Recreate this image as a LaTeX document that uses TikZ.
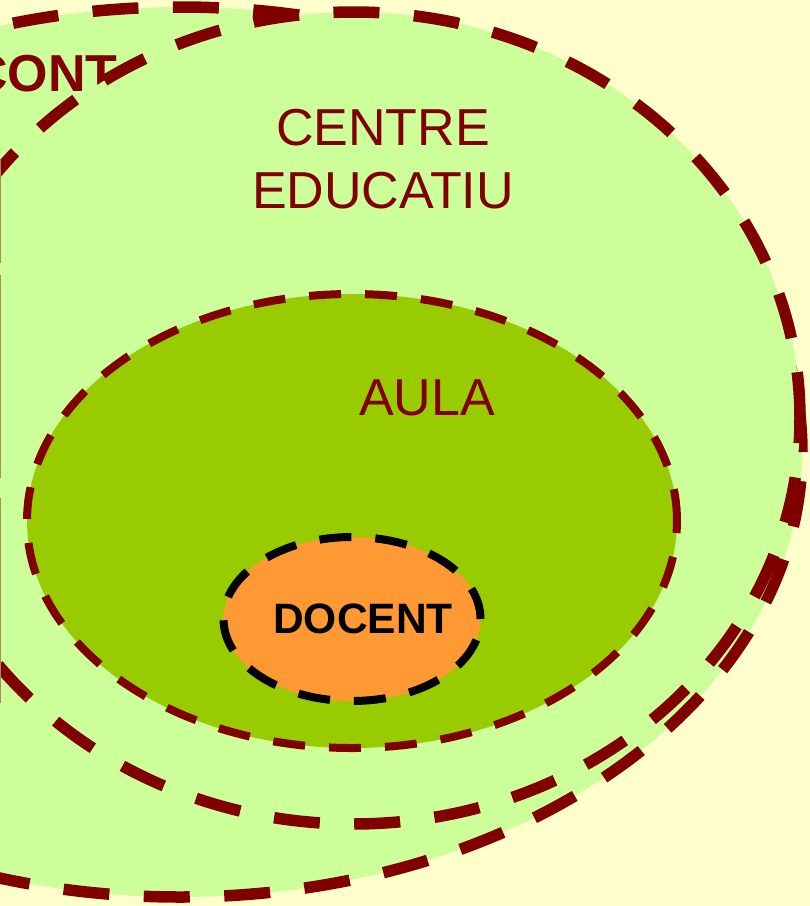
\documentclass[tikz,border=0pt]{standalone}
\usepackage{fontspec}
\setmainfont{Liberation Sans}
\usetikzlibrary{shapes.geometric}
\definecolor{bgyellow}{HTML}{FFFFCC}
\definecolor{lgreen}{HTML}{CCFF99}
\definecolor{agreen}{HTML}{99CC00}
\definecolor{dorange}{HTML}{FF9933}
\definecolor{dred}{HTML}{800000}
\definecolor{tanline}{HTML}{A88A5C}
\begin{document}
\begin{tikzpicture}[x=1pt,y=-1pt,
  ring/.style={ellipse, inner sep=0pt, outer sep=0pt},
  bigdash/.style={draw=dred, line width=11.5pt, dash pattern=on 46pt off 34.5pt},
  smalldash/.style={line width=8pt, dash pattern=on 32pt off 24pt},
  lbl/.style={inner sep=0pt, text=dred}]
\useasboundingbox (0,0) rectangle (810,906);
\fill[bgyellow] (0,0) rectangle (810,906);
\clip (0,0) rectangle (810,906);
\node[ring, bigdash, fill=lgreen, minimum width=1244pt, minimum height=890pt] (ctx) at (180,452) {};
\node[lbl, anchor=base west, font=\bfseries\fontsize{52}{62}\selectfont] (cont) at (-30,91) {CONT};
\node[ring, bigdash, fill=lgreen, minimum width=894pt, minimum height=812pt] (centre) at (353,418) {};
\node[ring, smalldash, draw=dred, fill=agreen, minimum width=650pt, minimum height=454pt] (aula) at (352,521) {};
\node[ring, smalldash, draw=black, fill=dorange, minimum width=257pt, minimum height=164pt] (docent) at (352,619) {};
\node[lbl, anchor=north, align=center, font=\fontsize{52}{63}\selectfont] (centrelbl) at (383,109) {CENTRE\\EDUCATIU};
\node[lbl, anchor=base west, font=\fontsize{52}{62}\selectfont] (aulalbl) at (359,415) {AULA};
\node[lbl, anchor=base, text=black, font=\bfseries\fontsize{42.5}{50}\selectfont] (docentlbl) at (363,633) {DOCENT};
\draw[tanline, line width=1.2pt] (0.6,160) -- (0.6,263) (0.6,275) -- (0.6,478) (0.6,498) -- (0.6,703);
\end{tikzpicture}
\end{document}
